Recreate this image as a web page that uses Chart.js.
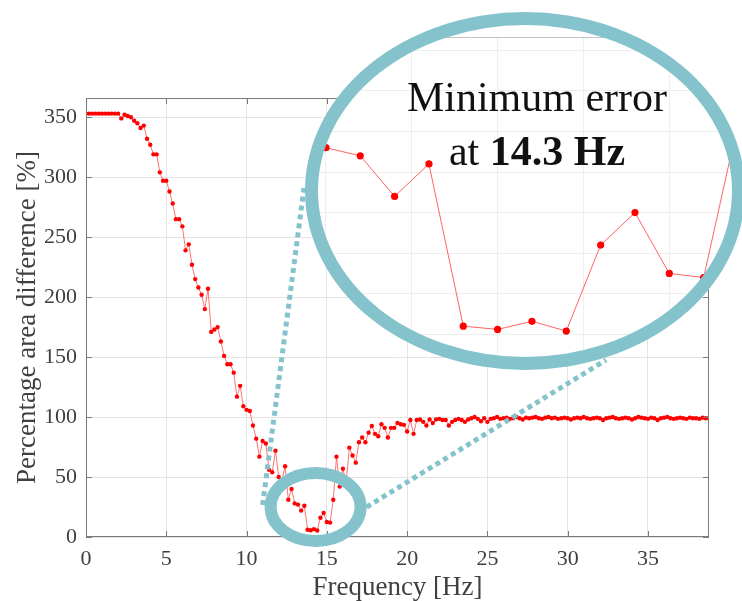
<!DOCTYPE html>
<html>
<head>
<meta charset="utf-8">
<script src="https://cdn.jsdelivr.net/npm/chart.js@4.4.1/dist/chart.umd.min.js"></script>
<style>
  html, body { margin: 0; padding: 0; background: #fff; overflow: hidden; }
  #wrap { position: relative; width: 742px; height: 601px; overflow: hidden; }
  #main { position: absolute; left: 0; top: 0; }
  #inset { position: absolute; left: 305px; top: 12px; background: #fff;
           clip-path: ellipse(213px 172px at 220px 179px); }
  #ring { position: absolute; left: 305px; top: 12px; width: 440px; height: 358px;
          box-sizing: border-box; border: 13px solid #85c3cc; border-radius: 50%; }
</style>
</head>
<body>
<div id="wrap">
  <canvas id="main" width="742" height="601"></canvas>
  <canvas id="inset" width="440" height="358"></canvas>
  <div id="ring"></div>
</div>
<script>
// --- data (one sample every 0.2 Hz) ---
const FREQ_STEP = 0.2;

const areaDiff = [
  353, 353, 353, 353, 353, 353, 353, 353, 353, 353,
  353, 349, 352, 351, 350, 347, 345, 341, 343, 332,
  327, 319, 319, 304, 297, 297, 288, 278, 265, 265,
  259, 239, 244, 227, 215, 208, 202, 190, 207, 171,
  173, 175, 163, 151, 144, 144, 137, 117, 126, 109,
  106, 105, 93, 82, 67, 80, 78, 56, 54, 72,
  50, 47, 59, 31, 40, 28, 27, 22, 26, 6,
  5.6, 6.6, 5.4, 16, 20, 12.5, 12, 31, 67, 42,
  57, 45, 74.5, 68, 62, 79, 83, 79, 87, 92.5,
  86, 84, 94, 91, 83, 91, 91, 95, 94, 93.5,
  88, 97.5, 86, 97.5, 98, 96, 93, 98, 95, 98,
  98.5, 97.5, 97.5, 93, 96, 97.5, 98.5, 97.5, 96, 98,
  99, 100, 98.5, 96.5, 99, 96, 98.5, 99, 100, 98.5,
  99, 99.5, 98.5, 99, 100, 99, 98, 99.5, 99, 99.5,
  100, 99, 98.5, 99.5, 100, 99, 99.5, 98.5, 99, 99.5,
  99, 98, 99, 99.5, 99, 100, 99, 98.5, 99, 99.5,
  99, 97.5, 99, 99.5, 100, 99, 98.5, 99, 99.5, 99,
  98, 99, 100, 99.5, 99, 98.5, 99.5, 99, 97.5, 99,
  99.5, 100, 99, 98.5, 99, 99.5, 99, 98.5, 99.5, 99,
  99, 98.5, 99.5, 99, 99
];
const frequency = areaDiff.map((_, i) => +(i * FREQ_STEP).toFixed(1));

const xTicks = [0, 5, 10, 15, 20, 25, 30, 35];
const yTicks = [0, 50, 100, 150, 200, 250, 300, 350];
const insetXTicks = [13, 13.5, 14, 14.5, 15];
const insetYTicks = [5, 10, 15, 20, 25, 30, 35, 40];

const zoomCenter = [14.3, 25];   // Hz, %
const noteLine1 = 'Minimum error';
const notePrefix = 'at ';
const noteValue = '14.3 Hz';

const serif = '"Liberation Serif", "Times New Roman", serif';
const teal = '#85c3cc';
const points = frequency.map((f, i) => ({ x: f, y: areaDiff[i] }));

// box round the plot + MATLAB style inward ticks
const boxPlugin = {
  id: 'box',
  afterDraw(c) {
    const { ctx, chartArea: a, scales: { x, y } } = c;
    ctx.save();
    ctx.strokeStyle = '#7a7a7a';
    ctx.lineWidth = 1;
    ctx.strokeRect(a.left + 0.5, a.top + 0.5, a.width - 1, a.height - 1);
    ctx.beginPath();
    xTicks.forEach(v => {
      const px = Math.round(x.getPixelForValue(v)) + 0.5;
      ctx.moveTo(px, a.bottom); ctx.lineTo(px, a.bottom - 6);
      ctx.moveTo(px, a.top); ctx.lineTo(px, a.top + 6);
    });
    yTicks.forEach(v => {
      const py = Math.round(y.getPixelForValue(v)) + 0.5;
      ctx.moveTo(a.left, py); ctx.lineTo(a.left + 6, py);
      ctx.moveTo(a.right, py); ctx.lineTo(a.right - 6, py);
    });
    ctx.stroke();
    ctx.restore();
  }
};

// small ring round the minimum and dotted connectors to the big one
const calloutPlugin = {
  id: 'callout',
  afterDraw(c) {
    const { ctx, scales: { x, y } } = c;
    const cx = x.getPixelForValue(zoomCenter[0]);
    const cy = y.getPixelForValue(zoomCenter[1]);
    ctx.save();
    ctx.strokeStyle = teal;
    ctx.lineWidth = 5;
    ctx.setLineDash([5, 4]);
    ctx.beginPath();
    ctx.moveTo(cx - 53, cy - 2);
    ctx.lineTo(304, 188);
    ctx.moveTo(cx + 51, cy);
    ctx.lineTo(606, 360);
    ctx.stroke();
    ctx.setLineDash([]);
    ctx.lineWidth = 12;
    ctx.beginPath();
    ctx.ellipse(cx, cy, 45, 34, 0, 0, Math.PI * 2);
    ctx.stroke();
    ctx.restore();
  }
};

new Chart(document.getElementById('main'), {
  type: 'line',
  data: {
    datasets: [{
      data: points,
      borderColor: 'rgba(255, 70, 70, 0.75)',
      borderWidth: 1,
      pointRadius: 2.2,
      pointHoverRadius: 2.2,
      pointBackgroundColor: '#ff0000',
      pointBorderWidth: 0
    }]
  },
  options: {
    responsive: false,
    devicePixelRatio: 1,
    animation: false,
    layout: { padding: { top: 98, right: 33, left: 0, bottom: 0 } },
    plugins: { legend: { display: false }, tooltip: { enabled: false } },
    scales: {
      x: {
        type: 'linear',
        min: 0,
        max: 38.8,
        afterBuildTicks: s => { s.ticks = xTicks.map(v => ({ value: v })); },
        afterFit: s => { s.height = 64; },
        grid: { color: '#e4e4e4', drawTicks: false },
        border: { display: false },
        ticks: { color: '#404040', font: { family: serif, size: 22 }, padding: 9, maxRotation: 0 },
        title: {
          display: true, text: 'Frequency [Hz]', color: '#404040',
          font: { family: serif, size: 27, lineHeight: 1 }, padding: 0
        }
      },
      y: {
        min: 0,
        max: 366,
        afterBuildTicks: s => { s.ticks = yTicks.map(v => ({ value: v })); },
        afterFit: s => { s.width = 86; },
        grid: { color: '#e4e4e4', drawTicks: false },
        border: { display: false },
        ticks: { color: '#404040', font: { family: serif, size: 22 }, padding: 9 },
        title: {
          display: true, text: 'Percentage area difference [%]', color: '#404040',
          font: { family: serif, size: 27, lineHeight: 1 }, padding: { top: 14, bottom: 0 }
        }
      }
    }
  },
  plugins: [boxPlugin, calloutPlugin]
});

// magnified view inside the big ring
const insetPlugin = {
  id: 'insetNote',
  afterDraw(c) {
    const { ctx, chartArea: a } = c;
    ctx.save();
    ctx.strokeStyle = '#c4c4c4';
    ctx.lineWidth = 1;
    ctx.beginPath();
    ctx.moveTo(a.left, a.top + 0.5);
    ctx.lineTo(a.right, a.top + 0.5);
    ctx.stroke();

    ctx.fillStyle = '#111';
    ctx.textBaseline = 'alphabetic';
    ctx.textAlign = 'left';
    const midX = 232;
    ctx.font = `42px ${serif}`;
    const w1 = ctx.measureText(noteLine1).width;
    ctx.fillText(noteLine1, midX - w1 / 2, 99);
    const wp = ctx.measureText(notePrefix).width;
    ctx.font = `bold 42px ${serif}`;
    const wv = ctx.measureText(noteValue).width;
    const start = midX - (wp + wv) / 2;
    ctx.font = `42px ${serif}`;
    ctx.fillText(notePrefix, start, 153);
    ctx.font = `bold 42px ${serif}`;
    ctx.fillText(noteValue, start + wp, 153);
    ctx.restore();
  }
};

new Chart(document.getElementById('inset'), {
  type: 'line',
  data: {
    datasets: [{
      data: points,
      borderColor: 'rgba(255, 60, 60, 0.8)',
      borderWidth: 1,
      pointRadius: 3.6,
      pointHoverRadius: 3.6,
      pointBackgroundColor: '#ff0000',
      pointBorderWidth: 0
    }]
  },
  options: {
    responsive: false,
    devicePixelRatio: 1,
    animation: false,
    layout: { padding: { top: 25, left: 0, right: 0, bottom: 0 } },
    plugins: { legend: { display: false }, tooltip: { enabled: false } },
    scales: {
      x: {
        type: 'linear',
        min: 12.899,
        max: 15.42,
        afterBuildTicks: s => { s.ticks = insetXTicks.map(v => ({ value: v })); },
        afterFit: s => { s.height = 0; },
        ticks: { display: false },
        grid: { color: '#eeeeee', drawTicks: false },
        border: { display: false }
      },
      y: {
        min: 1.04,
        max: 41.65,
        afterBuildTicks: s => { s.ticks = insetYTicks.map(v => ({ value: v })); },
        afterFit: s => { s.width = 0; },
        ticks: { display: false },
        grid: { color: '#eeeeee', drawTicks: false },
        border: { display: false }
      }
    }
  },
  plugins: [insetPlugin]
});
</script>
</body>
</html>
